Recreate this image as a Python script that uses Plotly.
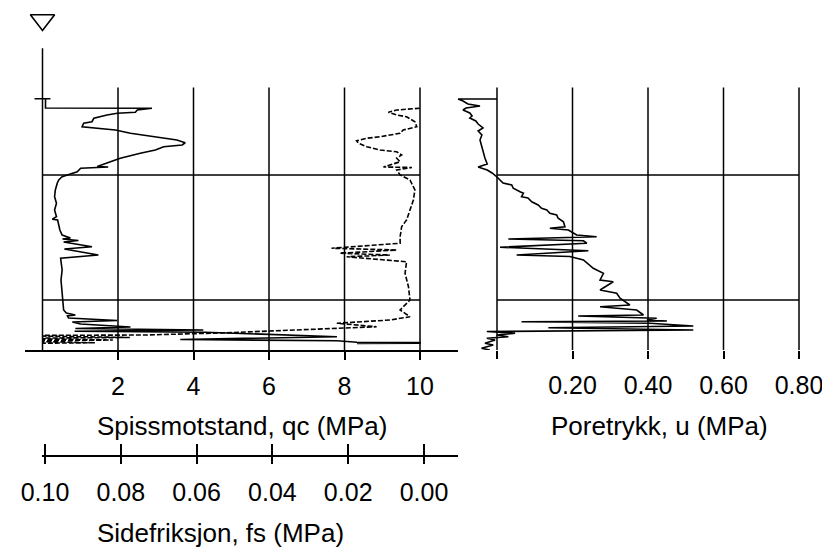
import plotly.graph_objects as go

W, H = 830, 550
OFF = 8  # page body margin in which the figure sits
FONT = "Liberation Sans, Arial, sans-serif"

# ---------------- data ----------------
# cone resistance qc (MPa) vs depth (m)
qc_depth = [1.96, 2.32, 2.33, 2.40, 2.49, 2.53, 2.60, 2.73, 2.87, 2.93, 3.07, 3.20, 3.33, 3.53,
            3.60, 3.71, 3.80, 3.87, 4.00, 4.13, 4.33, 4.47, 4.66, 4.68, 4.70, 4.73, 4.87, 5.00,
            5.07, 5.20, 5.33, 5.60, 5.87, 6.13, 6.40, 6.67, 6.77, 6.80, 7.20, 7.40, 7.52, 7.56,
            7.62, 7.68, 7.87, 7.96, 8.20, 8.33, 8.80, 9.20, 9.60, 10.00, 10.40, 10.52, 10.60,
            10.64, 10.72, 10.82, 10.88, 10.96, 11.08, 11.14, 11.20, 11.25, 11.29, 11.47, 11.58,
            11.63, 11.69, 11.70, 11.73, 11.74]
qc_val = [0.08, 0.08, 2.90, 2.51, 2.46, 1.98, 1.71, 1.36, 1.31, 1.09, 1.05, 1.93, 2.33, 3.21,
          3.56, 3.78, 3.70, 3.21, 2.99, 2.59, 2.06, 1.80, 1.45, 1.74, 1.05, 1.01, 0.92, 0.65,
          0.52, 0.43, 0.39, 0.34, 0.32, 0.37, 0.32, 0.37, 0.26, 0.40, 0.46, 0.52, 0.74, 0.53,
          0.95, 0.56, 1.31, 0.58, 1.48, 0.48, 0.52, 0.49, 0.52, 0.54, 0.56, 0.63, 0.87,
          0.66, 0.69, 1.98, 0.79, 1.01, 2.33, 0.87, 4.26, 0.85, 4.30, 7.80, 3.65,
          7.80, 8.33, 10.0, 10.0, 8.33]

# sleeve friction fs (MPa) vs depth (m)
fs_depth = [2.33, 2.40, 2.49, 2.60, 2.67, 2.87, 3.07, 3.20, 3.33, 3.47, 3.53, 3.63, 3.73, 3.87,
            4.00, 4.07, 4.20, 4.33, 4.47, 4.68, 4.70, 4.80, 5.00, 5.20, 5.60, 6.00, 6.40, 6.80,
            7.07, 7.47, 7.73, 7.93, 8.00, 8.13, 8.20, 8.27, 8.47, 8.93, 9.47, 10.00, 10.40,
            10.67, 10.80, 10.93, 11.07, 11.20, 11.31, 11.40, 11.42, 11.50, 11.53, 11.60, 11.64,
            11.71, 11.74]
fs_val = [0.0011, 0.0072, 0.0094, 0.0072, 0.0046, 0.0024, 0.0019, 0.0055, 0.0063, 0.0116,
          0.0151, 0.0178, 0.0173, 0.0151, 0.0116, 0.0072, 0.0059, 0.0072, 0.0063, 0.0107,
          0.0032, 0.0072, 0.0063, 0.0037, 0.0024, 0.0028, 0.0037, 0.0046, 0.0059, 0.0063,
          0.0063, 0.0244, 0.0072, 0.0222, 0.0090, 0.0204, 0.0046, 0.0050, 0.0041, 0.0037,
          0.0063, 0.0037, 0.0090, 0.0230, 0.0125, 0.0319, 0.0521, 0.0732, 0.1100, 0.0776,
          0.1100, 0.0821, 0.1100, 0.0868, 0.1100]

# pore pressure u (MPa) vs depth (m)
u_depth = [1.96, 1.96, 2.04, 2.16, 2.24, 2.32, 2.40, 2.52, 2.64, 2.72, 2.84, 2.96, 3.12, 3.24,
           3.40, 3.60, 3.88, 4.08, 4.32, 4.56, 4.68, 4.80, 4.92, 5.08, 5.32, 5.40, 5.53, 5.67,
           5.73, 5.87, 5.92, 6.07, 6.20, 6.33, 6.40, 6.53, 6.60, 6.73, 6.87, 7.07, 7.13, 7.20,
           7.40, 7.47, 7.56, 7.63, 7.73, 7.89, 8.03, 8.20, 8.26, 8.40, 8.73, 8.93, 9.20, 9.27,
           9.60, 9.73, 9.93, 10.20, 10.27, 10.40, 10.60, 10.64, 10.73, 10.80, 10.84, 10.87,
           10.93, 11.04, 11.11, 11.20, 11.26, 11.33, 11.40, 11.47, 11.53, 11.60, 11.73, 11.80,
           11.93, 12.00]
u_val = [0.000, -0.103, -0.090, -0.077, -0.045, -0.082, -0.090, -0.072, -0.066, -0.072, -0.056,
         -0.050, -0.037, -0.050, -0.040, -0.045, -0.040, -0.037, -0.032, -0.026, -0.050, -0.026,
         -0.013, 0.000, 0.016, 0.039, 0.043, 0.061, 0.070, 0.065, 0.082, 0.092, 0.109, 0.118,
         0.132, 0.140, 0.158, 0.162, 0.176, 0.180, 0.140, 0.189, 0.211, 0.264, 0.030, 0.229,
         0.238, 0.008, 0.242, 0.052, 0.193, 0.229, 0.255, 0.282, 0.273, 0.308, 0.273, 0.317,
         0.326, 0.352, 0.273, 0.370, 0.388, 0.215, 0.423, 0.397, 0.450, 0.065, 0.405, 0.520,
         0.136, 0.520, -0.027, 0.048, -0.001, 0.030, -0.027, -0.005, -0.032, -0.010, -0.041,
         -0.019]

qc_ticks = [2, 4, 6, 8, 10]
qc_ticktext = ["2", "4", "6", "8", "10"]
fs_ticks = [0.10, 0.08, 0.06, 0.04, 0.02, 0.00]
fs_ticktext = ["0.10", "0.08", "0.06", "0.04", "0.02", "0.00"]
u_ticks = [0.0, 0.2, 0.4, 0.6, 0.8]
u_ticktext = ["", "0.20", "0.40", "0.60", "0.80"]
depth_lines = [5, 10]
grid_top_depth = 1.5
bottom_depth = 12
axis_top_depth = -0.07
start_depth = 1.95
start_tick_half = 0.21
water_symbol_depth = -1.2
stop_mark_depth = 12.12
stop_mark_qc = [-0.39, 0.0, 0.38]

# ---------------- helpers (page pixels -> paper fractions) ----------------
def px_x(p):
    return (p - OFF) / W

def px_y(p):
    return 1 - (p - OFF) / H

def segments(pairs):
    xs, ys = [], []
    for (x0, y0), (x1, y1) in pairs:
        xs += [x0, x1, None]
        ys += [y0, y1, None]
    return xs, ys

BLACK = "black"
fig = go.Figure()

# left panel grid
left_pairs = [((v, grid_top_depth), (v, bottom_depth)) for v in qc_ticks]
left_pairs.append(((0, axis_top_depth), (0, bottom_depth)))
left_pairs += [((0, d), (qc_ticks[-1], d)) for d in depth_lines]
gx, gy = segments(left_pairs)
fig.add_trace(go.Scatter(x=gx, y=gy, mode="lines", line=dict(color=BLACK, width=1.5),
                         xaxis="x", yaxis="y", hoverinfo="skip", showlegend=False))

# start-of-sounding tick
fig.add_trace(go.Scatter(x=[-start_tick_half, start_tick_half], y=[start_depth, start_depth],
                         mode="lines", line=dict(color=BLACK, width=1.5),
                         xaxis="x", yaxis="y", showlegend=False))

# right panel grid
right_pairs = [((v, grid_top_depth), (v, bottom_depth)) for v in u_ticks]
right_pairs += [((u_ticks[0], d), (u_ticks[-1], d)) for d in depth_lines]
rx, ry = segments(right_pairs)
fig.add_trace(go.Scatter(x=rx, y=ry, mode="lines", line=dict(color=BLACK, width=1.5),
                         xaxis="x3", yaxis="y", hoverinfo="skip", showlegend=False))

# data curves
fig.add_trace(go.Scatter(x=qc_val, y=qc_depth, mode="lines", line=dict(color=BLACK, width=1.6),
                         xaxis="x", yaxis="y", name="qc", showlegend=False))
fig.add_trace(go.Scatter(x=fs_val, y=fs_depth, mode="lines",
                         line=dict(color=BLACK, width=1.6, dash="5px,2px"),
                         xaxis="x2", yaxis="y", name="fs", showlegend=False))
fig.add_trace(go.Scatter(x=u_val, y=u_depth, mode="lines", line=dict(color=BLACK, width=1.6),
                         xaxis="x3", yaxis="y", name="u", showlegend=False))

# water level symbol
fig.add_trace(go.Scatter(x=[0], y=[water_symbol_depth], mode="markers",
                         marker=dict(symbol="triangle-down-open", size=21,
                                     color=BLACK, line=dict(color=BLACK, width=1.6)),
                         xaxis="x", yaxis="y", cliponaxis=False, showlegend=False))

# stop marks
fig.add_trace(go.Scatter(x=stop_mark_qc, y=[stop_mark_depth] * len(stop_mark_qc), mode="text",
                         text=["x"] * len(stop_mark_qc),
                         textfont=dict(family=FONT, size=13, color=BLACK),
                         xaxis="x", yaxis="y", cliponaxis=False, showlegend=False))

# carrier for the upward fs tick marks
fig.add_trace(go.Scatter(x=fs_ticks, y=[None] * len(fs_ticks), mode="lines",
                         xaxis="x4", yaxis="y", showlegend=False, hoverinfo="skip"))

QC0, QCPX = 42.5, 37.75
FS0, FSPX = 424.0, 3790.0
U0, UPX = 497.0, 377.5
DEPTH0, DEPTHPX = 50.0, 25.0
TOP_PX = OFF
BOTTOM_PX = 350

tickfont = dict(family=FONT, size=25, color=BLACK)
common = dict(showgrid=False, zeroline=False, tickcolor=BLACK, tickwidth=1.5,
              tickfont=tickfont, tickmode="array", fixedrange=True, automargin=False)

fig.update_layout(
    template="none",
    width=W, height=H, margin=dict(l=0, r=0, t=0, b=0, pad=0), autosize=False,
    paper_bgcolor="white", plot_bgcolor="rgba(0,0,0,0)",
    showlegend=False, font=dict(family=FONT, color=BLACK),
    xaxis=dict(domain=[px_x(25), px_x(458)],
               range=[(25 - QC0) / QCPX, (458 - QC0) / QCPX],
               anchor="y", showline=True, linecolor=BLACK, linewidth=1.5,
               ticks="outside", ticklen=8, tickvals=qc_ticks, ticktext=qc_ticktext,
               ticklabelstandoff=5, **common),
    yaxis=dict(domain=[px_y(BOTTOM_PX), px_y(TOP_PX)],
               range=[(BOTTOM_PX - DEPTH0) / DEPTHPX, (TOP_PX - DEPTH0) / DEPTHPX],
               anchor="x", visible=False, fixedrange=True, automargin=False),
    xaxis2=dict(domain=[px_x(42), px_x(458)],
                range=[(FS0 - 42) / FSPX, (FS0 - 458) / FSPX],
                anchor="free", position=px_y(456), showline=True, linecolor=BLACK, linewidth=1.5,
                ticks="outside", ticklen=7, tickvals=fs_ticks, ticktext=fs_ticktext,
                ticklabelstandoff=7, **common),
    xaxis4=dict(domain=[px_x(42), px_x(458)],
                range=[(FS0 - 42) / FSPX, (FS0 - 458) / FSPX],
                anchor="free", position=px_y(456), showline=False,
                ticks="inside", ticklen=12, tickvals=fs_ticks, showticklabels=False,
                **common),
    xaxis3=dict(domain=[px_x(452), 1.0],
                range=[(452 - U0) / UPX, (W + OFF - U0) / UPX],
                anchor="y", showline=False,
                ticks="outside", ticklen=8, tickvals=u_ticks, ticktext=u_ticktext,
                ticklabelstandoff=5, **common),
    annotations=[
        dict(text="Spissmotstand, qc (MPa)", x=px_x(242), y=px_y(426), xref="paper", yref="paper",
             xanchor="center", yanchor="middle", showarrow=False,
             font=dict(family=FONT, size=26, color=BLACK)),
        dict(text="Poretrykk, u (MPa)", x=px_x(659), y=px_y(426), xref="paper", yref="paper",
             xanchor="center", yanchor="middle", showarrow=False,
             font=dict(family=FONT, size=26, color=BLACK)),
        dict(text="Sidefriksjon, fs (MPa)", x=px_x(221), y=px_y(533), xref="paper", yref="paper",
             xanchor="center", yanchor="middle", showarrow=False,
             font=dict(family=FONT, size=26, color=BLACK)),
    ],
)

fig.write_html("out.html")
